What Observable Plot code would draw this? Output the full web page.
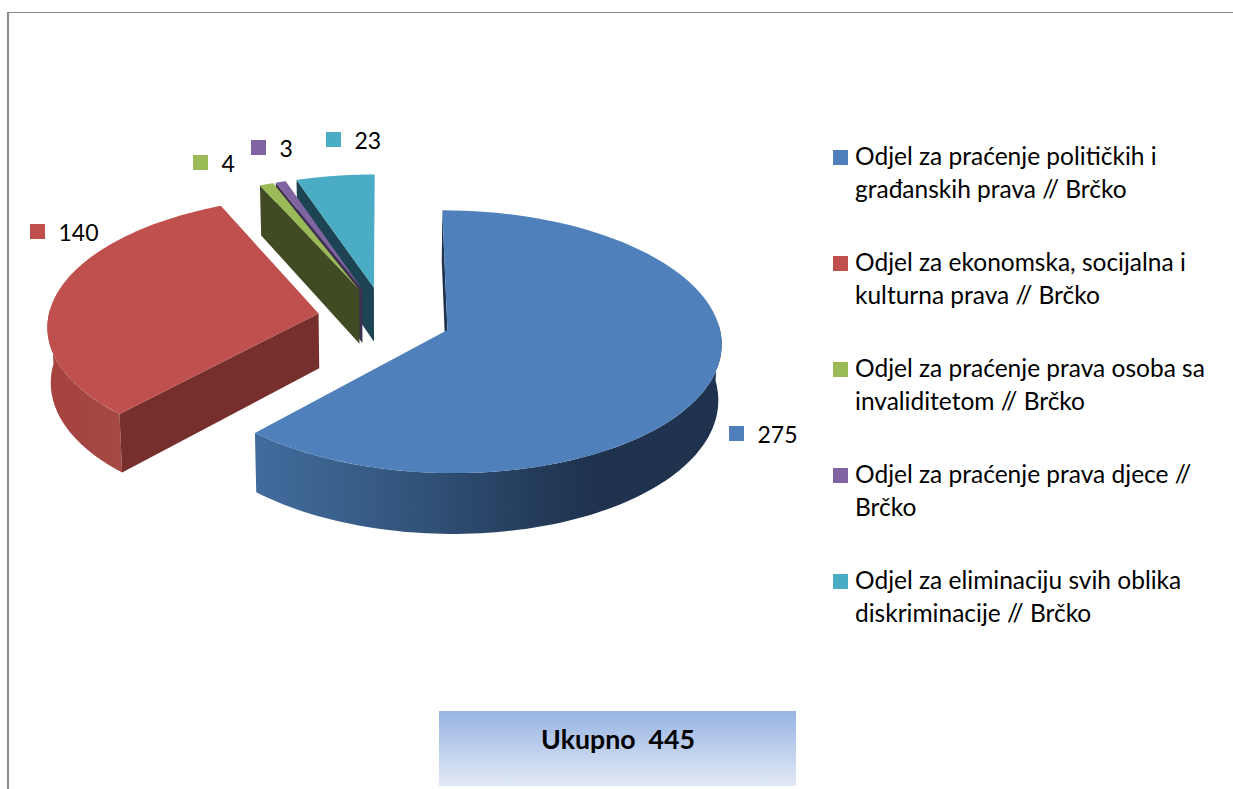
<!DOCTYPE html>
<html><head><meta charset="utf-8">
<style>html,body{margin:0;padding:0;background:#fff;overflow:hidden}svg{display:block}</style>
<script src="https://cdn.jsdelivr.net/npm/d3@7"></script>
<script src="https://cdn.jsdelivr.net/npm/@observablehq/plot@0.6"></script>
</head><body><div id="chart"></div>
<script>
// --- data ---
const values = [275, 140, 4, 3, 23];
const legendLabels = [
  "Odjel za praćenje političkih i\ngrađanskih prava // Brčko",
  "Odjel za ekonomska, socijalna i\nkulturna prava // Brčko",
  "Odjel za praćenje prava osoba sa\ninvaliditetom // Brčko",
  "Odjel za praćenje prava djece //\nBrčko",
  "Odjel za eliminaciju svih oblika\ndiskriminacije // Brčko"
];
const topColors = ["#4f80bc", "#c0504d", "#9bbb59", "#8064a2", "#4bacc6"];
const faceColors = ["#1f334f", "#772f2e", "#404a23", "#3f3051", "#1d4452"];
const totalLabel = "Ukupno";

// --- layout ---
const W = 1233, H = 789;
const cx = 384, cy = 318, R = 270.5, explode = 67, tilt = 0.4745, persp = 0.0875, depth = 55;
const labelSwatch = [[729, 426], [30, 224], [193, 155], [251, 140], [326, 132]];
const swatch = 15;
const legendX = 833, legendY0 = 150, legendStep = 106;
const font = "Lato, 'Open Sans', sans-serif";

// --- geometry computed from the values ---
const slices = d3.pie().sort(null).value(d => d)(values).map((a, i) => ({...a, i}));
function project(X, Z, bottom) {
  const s = 1 / (1 + persp * Z / R);
  return {
    x: cx + s * X * (bottom ? 0.99 : 1),
    y: cy - s * Z * tilt + (bottom ? depth * s : 0)
  };
}
function offset(sl) {
  const m = (sl.startAngle + sl.endAngle) / 2;
  return [explode * Math.sin(m), explode * Math.cos(m)];
}
const apexOf = (sl, bottom) => { const [ox, oz] = offset(sl); return project(ox, oz, bottom); };
const rimOf = (sl, t, bottom) => {
  const [ox, oz] = offset(sl);
  return project(ox + R * Math.sin(t), oz + R * Math.cos(t), bottom);
};
const arc = (sl, a, b, bottom) => d3.range(0, 91).map(j => rimOf(sl, a + (b - a) * j / 90, bottom));
const topFace = sl => [apexOf(sl), ...arc(sl, sl.startAngle, sl.endAngle)];
const startFace = sl => [apexOf(sl), rimOf(sl, sl.startAngle), rimOf(sl, sl.startAngle, true), apexOf(sl, true)];
const rimFace = (sl, a, b) => [...arc(sl, a, b), ...arc(sl, a, b, true).reverse()];
const poly = (pts, fill) => Plot.line(pts, {x: "x", y: "y", fill, stroke: "none"});
const deg = Math.PI / 180;

const grads = {
  blueSide: [[0, "#426c9e"], [0.3, "#34577f"], [0.62, "#233a59"], [0.72, "#1f334f"], [1, "#1f334f"]],
  redSide: [[0, "#a6433f"], [0.5, "#a44440"], [1, "#a64a46"]],
};
const defs = () => {
  const d = d3.create("svg:defs");
  for (const [id, stops] of Object.entries(grads)) {
    const g = d.append("linearGradient").attr("id", id).attr("x1", 0).attr("x2", 1).attr("y1", 0).attr("y2", 0);
    for (const [o, c] of stops) g.append("stop").attr("offset", o).attr("stop-color", c);
  }
  const b = d.append("linearGradient").attr("id", "totalBox").attr("x1", 0).attr("x2", 0).attr("y1", 0).attr("y2", 1);
  b.append("stop").attr("offset", 0).attr("stop-color", "#97b4e3");
  b.append("stop").attr("offset", 1).attr("stop-color", "#e2e9f6");
  return d.node();
};

const [blue, red, green, purple, teal] = slices;
const pieMarks = [
  poly(startFace(teal), faceColors[4]), poly(topFace(teal), topColors[4]),
  poly(startFace(purple), faceColors[3]), poly(topFace(purple), topColors[3]),
  poly(startFace(green), faceColors[2]), poly(topFace(green), topColors[2]),
  poly(rimFace(red, red.startAngle, 272 * deg), "url(#redSide)"),
  poly(startFace(red), faceColors[1]), poly(topFace(red), topColors[1]),
  poly(startFace(blue), faceColors[0]),
  poly(rimFace(blue, 88 * deg, blue.endAngle), "url(#blueSide)"),
  poly(topFace(blue), topColors[0])
];

const labelRows = values.map((v, i) => ({
  v, c: topColors[i], x: labelSwatch[i][0], y: labelSwatch[i][1]
}));
const legendRows = legendLabels.map((t, i) => ({
  t, c: topColors[i], y: legendY0 + legendStep * i
}));

const chart = Plot.plot({
  width: W, height: H,
  margin: 0, marginTop: 0, marginRight: 0, marginBottom: 0, marginLeft: 0,
  x: {domain: [0, W], range: [0, W], axis: null},
  y: {domain: [0, H], range: [0, H], axis: null},
  style: {background: "#fff", fontFamily: font},
  marks: [
    defs,
    Plot.ruleX([7.5], {y1: 12, y2: H, stroke: "#8f8f8f", strokeWidth: 2.2, strokeOpacity: 1}),
    Plot.ruleY([12], {x1: 7, x2: W, stroke: "#868686", strokeWidth: 1, strokeOpacity: 1}),
    ...pieMarks,
    // data labels
    Plot.rect(labelRows, {x1: "x", x2: d => d.x + swatch, y1: "y", y2: d => d.y + swatch, fill: "c", inset: 0}),
    Plot.text(labelRows, {x: d => d.x + swatch + 13, y: d => d.y + swatch / 2 + 1.5, text: d => String(d.v),
      textAnchor: "start", fontSize: 23, fill: "#000", fontFamily: font}),
    // legend
    Plot.rect(legendRows, {x1: legendX, x2: legendX + swatch, y1: "y", y2: d => d.y + swatch, fill: "c"}),
    Plot.text(legendRows, {x: legendX + 21.5, y: d => d.y + 20.5, text: "t", textAnchor: "start",
      lineHeight: 1.347, fontSize: 24.5, fill: "#000", fontFamily: font}),
    // total box
    Plot.rect([0], {x1: 439, x2: 796, y1: 711, y2: 786, fill: "url(#totalBox)"}),
    Plot.text([`${totalLabel}\u00a0\u00a0${d3.sum(values)}`], {x: 617.5, y: 740, text: d => d,
      fontSize: 26.7, fontWeight: "bold", fill: "#000", fontFamily: font})
  ]
});
document.getElementById("chart").append(chart);
</script></body></html>
